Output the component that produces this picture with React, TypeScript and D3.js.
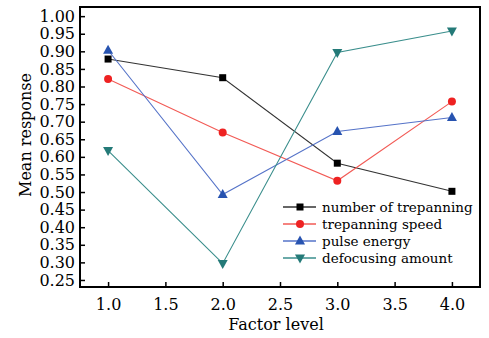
import { useEffect, useRef } from 'react';
import * as d3 from 'd3';

const levels = [1, 2, 3, 4];
const trepanningNumber = [0.878, 0.825, 0.582, 0.502];
const trepanningSpeed = [0.821, 0.669, 0.532, 0.757];
const pulseEnergy = [0.903, 0.493, 0.672, 0.712];
const defocusingAmount = [0.618, 0.297, 0.897, 0.958];

const xTicks = [1.0, 1.5, 2.0, 2.5, 3.0, 3.5, 4.0];
const yTicks = [0.25, 0.3, 0.35, 0.4, 0.45, 0.5, 0.55, 0.6, 0.65, 0.7, 0.75, 0.8, 0.85, 0.9, 0.95, 1.0];

const seriesNames = ['number of trepanning', 'trepanning speed', 'pulse energy', 'defocusing amount'];

export default function App() {
  const svgRef = useRef<SVGSVGElement>(null);

  useEffect(() => {
    if (!svgRef.current) return;
    const width = 489;
    const height = 338;
    const font = '"DejaVu Serif", serif';

    d3.select(svgRef.current).selectAll('*').remove();
    const svg = d3.select(svgRef.current).attr('width', width).attr('height', height);

    const margin = { top: 7, right: 9, bottom: 51, left: 80 };
    const innerWidth = width - margin.left - margin.right;
    const innerHeight = height - margin.top - margin.bottom;

    const x = d3.scaleLinear().domain([0.755, 4.245]).range([0, innerWidth]);
    const y = d3.scaleLinear().domain([0.23, 1.026]).range([innerHeight, 0]);

    const g = svg.append('g').attr('transform', `translate(${margin.left},${margin.top})`);

    // X axis (ticks inward)
    const xAxis = g.append('g')
      .attr('transform', `translate(0,${innerHeight})`)
      .call(d3.axisBottom(x).tickValues(xTicks).tickSizeInner(-5).tickSizeOuter(0).tickPadding(12)
        .tickFormat(d3.format('.1f') as any));
    xAxis.select('.domain').remove();
    xAxis.selectAll('line').attr('stroke', '#000').attr('stroke-width', 1.5);
    xAxis.selectAll('text').attr('font-family', font).attr('font-size', '16px').attr('fill', '#000');

    // Y axis
    const yAxis = g.append('g')
      .call(d3.axisLeft(y).tickValues(yTicks).tickSizeInner(-5).tickSizeOuter(0).tickPadding(5)
        .tickFormat(d3.format('.2f') as any));
    yAxis.select('.domain').remove();
    yAxis.selectAll('line').attr('stroke', '#000').attr('stroke-width', 1.5);
    yAxis.selectAll('text').attr('font-family', font).attr('font-size', '16px').attr('fill', '#000');

    // Frame
    g.append('rect')
      .attr('width', innerWidth)
      .attr('height', innerHeight)
      .attr('fill', 'none')
      .attr('stroke', '#000')
      .attr('stroke-width', 2);

    const series = [
      { name: seriesNames[0], values: trepanningNumber, line: '#333333', marker: '#000000', shape: 'square' },
      { name: seriesNames[1], values: trepanningSpeed, line: '#f25a55', marker: '#ee2222', shape: 'circle' },
      { name: seriesNames[2], values: pulseEnergy, line: '#5573c8', marker: '#2753b0', shape: 'up' },
      { name: seriesNames[3], values: defocusingAmount, line: '#3a8e8c', marker: '#247a78', shape: 'down' },
    ];

    const drawMarker = (sel: any, shape: string, color: string, cx: number, cy: number) => {
      if (shape === 'square') {
        sel.append('rect').attr('x', cx - 3.5).attr('y', cy - 3.5).attr('width', 7).attr('height', 7).attr('fill', color);
      } else if (shape === 'circle') {
        sel.append('circle').attr('cx', cx).attr('cy', cy).attr('r', 4).attr('fill', color);
      } else if (shape === 'up') {
        sel.append('path').attr('d', `M${cx},${cy - 5.5}L${cx + 5},${cy + 3.5}L${cx - 5},${cy + 3.5}Z`).attr('fill', color);
      } else {
        sel.append('path').attr('d', `M${cx},${cy + 5.5}L${cx + 5},${cy - 3.5}L${cx - 5},${cy - 3.5}Z`).attr('fill', color);
      }
    };

    const line = d3.line<number>().x((_, i) => x(levels[i])).y(d => y(d));

    series.forEach(s => {
      g.append('path')
        .datum(s.values)
        .attr('d', line)
        .attr('fill', 'none')
        .attr('stroke', s.line)
        .attr('stroke-width', 1.1);
    });
    series.forEach(s => {
      s.values.forEach((v, i) => drawMarker(g, s.shape, s.marker, x(levels[i]), y(v)));
    });

    // Legend
    const legend = svg.append('g').attr('transform', 'translate(283,207)');
    series.forEach((s, i) => {
      const row = legend.append('g').attr('transform', `translate(0,${i * 17})`);
      row.append('line').attr('x1', 0).attr('x2', 33).attr('y1', 0).attr('y2', 0)
        .attr('stroke', s.line).attr('stroke-width', 1.5);
      drawMarker(row, s.shape, s.marker, 17, 0);
      row.append('text')
        .attr('x', 39)
        .attr('y', 0)
        .attr('dy', '0.35em')
        .attr('font-family', font)
        .attr('font-size', '13.5px')
        .attr('fill', '#000')
        .text(s.name);
    });

    // Axis titles
    svg.append('text')
      .attr('x', margin.left + innerWidth / 2 - 4)
      .attr('y', 330)
      .attr('text-anchor', 'middle')
      .attr('font-family', font)
      .attr('font-size', '16px')
      .attr('fill', '#000')
      .text('Factor level');

    svg.append('text')
      .attr('transform', `translate(31,135) rotate(-90)`)
      .attr('text-anchor', 'middle')
      .attr('font-family', font)
      .attr('font-size', '16px')
      .attr('fill', '#000')
      .text('Mean response');
  }, []);

  return <svg ref={svgRef} style={{ position: 'absolute', left: 0, top: 0, background: '#fff' }} />;
}
